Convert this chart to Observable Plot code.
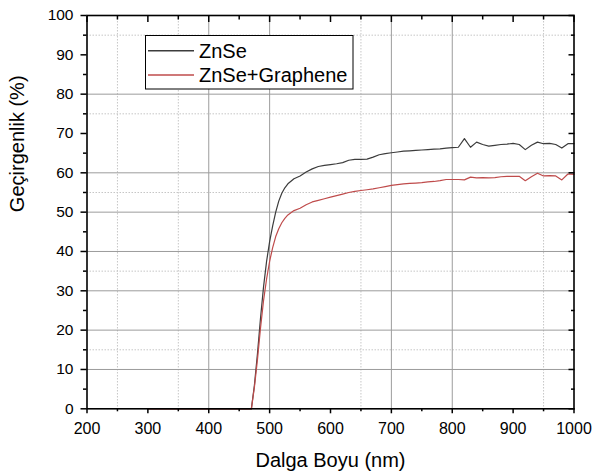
<!DOCTYPE html>
<html>
<head>
<meta charset="utf-8">
<script src="https://cdn.jsdelivr.net/npm/d3@7"></script>
<script src="https://cdn.jsdelivr.net/npm/@observablehq/plot@0.6"></script>
<style>
  html, body { margin: 0; padding: 0; background: white; }
  #chart svg { display: block; }
</style>
</head>
<body>
<div id="chart"></div>
<script>
// ---- data ----
const wavelengths = [300, 350, 400, 450, 470, 475, 480, 485, 490, 495, 500, 505, 510, 515, 520, 525, 530, 540, 550, 560, 570, 580, 590, 600, 610, 620, 630, 640, 650, 660, 670, 680, 690, 700, 710, 720, 730, 740, 750, 760, 770, 780, 790, 800, 810, 820, 830, 840, 850, 860, 870, 880, 890, 900, 910, 920, 930, 940, 950, 960, 970, 980, 990, 1000];
const znse = [0, 0, 0, 0, 0, 6, 14, 23, 31, 37.5, 42.5, 46.5, 50, 52.8, 54.8, 56.2, 57.2, 58.5, 59.2, 60.2, 61, 61.6, 61.9, 62.1, 62.3, 62.6, 63.2, 63.4, 63.4, 63.5, 64, 64.6, 64.9, 65.1, 65.3, 65.5, 65.6, 65.7, 65.8, 65.9, 66, 66.1, 66.3, 66.4, 66.5, 68.7, 66.5, 67.8, 67.2, 66.8, 67, 67.2, 67.3, 67.5, 67.2, 65.9, 67, 67.8, 67.4, 67.5, 67.2, 66.3, 67.4, 67.4];
const znseGraphene = [0, 0, 0, 0, 0, 5.5, 12.5, 20.5, 27.5, 33, 37.5, 41, 43.8, 45.8, 47.3, 48.4, 49.3, 50.4, 51, 51.9, 52.6, 53, 53.4, 53.8, 54.2, 54.6, 55, 55.3, 55.5, 55.7, 55.9, 56.2, 56.5, 56.8, 57, 57.2, 57.3, 57.4, 57.5, 57.7, 57.8, 58, 58.3, 58.3, 58.3, 58.2, 58.9, 58.7, 58.8, 58.7, 58.8, 59, 59.1, 59.1, 59.1, 58, 59, 59.9, 59.2, 59.3, 59.2, 58.2, 59.7, 59.6];
const seriesNames = ["ZnSe", "ZnSe+Graphene"];
const seriesColors = ["#3c3c3c", "#bf4b4b"];
const xTicks = [200, 300, 400, 500, 600, 700, 800, 900, 1000];
const xMinorTicks = [250, 350, 450, 550, 650, 750, 850, 950];
const yTicks = [0, 10, 20, 30, 40, 50, 60, 70, 80, 90, 100];
const yMinorTicks = [5, 15, 25, 35, 45, 55, 65, 75, 85, 95];
// gridlines visible in the reference
const gridX = [400, 500, 700, 800];
const gridXMinor = [250, 350, 650, 950];
const gridY = [10, 20, 30, 40, 50, 60, 80];
const gridYMinor = [15, 35, 55, 75, 95];
const xLabel = "Dalga Boyu (nm)";
const yLabel = "Geçirgenlik (%)";

const rows = [];
wavelengths.forEach((w, i) => {
  rows.push({w, v: znse[i], s: seriesNames[0]});
});
wavelengths.forEach((w, i) => {
  rows.push({w, v: znseGraphene[i], s: seriesNames[1]});
});

const W = 593, H = 471;
const mL = 86.5, mR = 19.5, mT = 15, mB = 62.7;
const font = "'Liberation Sans', Arial, Helvetica, sans-serif";

const chart = Plot.plot({
  width: W, height: H,
  marginLeft: mL, marginRight: mR, marginTop: mT, marginBottom: mB,
  x: {domain: [200, 1000]},
  y: {domain: [0, 100]},
  color: {domain: seriesNames, range: seriesColors},
  style: {fontFamily: font, background: "white", color: "black", overflow: "visible"},
  marks: [
    Plot.ruleX(gridXMinor, {stroke: "#c6c6c6", strokeDasharray: "1.5,1.5", strokeWidth: 1}),
    Plot.ruleY(gridYMinor, {stroke: "#c6c6c6", strokeDasharray: "1.5,1.5", strokeWidth: 1}),
    Plot.ruleX(gridX, {stroke: "#9c9c9c", strokeWidth: 1}),
    Plot.ruleY(gridY, {stroke: "#9c9c9c", strokeWidth: 1}),
    Plot.line(rows, {x: "w", y: "v", z: "s", stroke: "s", strokeWidth: 1.2}),
    Plot.frame({stroke: "black", strokeWidth: 1.6}),
    // bottom axis (outward)
    Plot.axisX({ticks: xTicks, tickSize: 5, tickPadding: 9, fontSize: 16, label: null, tickFormat: d => String(d), strokeWidth: 1.5}),
    Plot.axisX({ticks: xMinorTicks, tickSize: 3, fill: "none", label: null, tickFormat: () => "", strokeWidth: 1.5}),
    // top axis (inward)
    Plot.axisX({anchor: "top", ticks: xTicks, tickSize: 6, dy: 6, fill: "none", label: null, tickFormat: () => "", strokeWidth: 1.5}),
    Plot.axisX({anchor: "top", ticks: xMinorTicks, tickSize: 3.5, dy: 3.5, fill: "none", label: null, tickFormat: () => "", strokeWidth: 1.5}),
    // left axis (outward)
    Plot.axisY({ticks: yTicks, tickSize: 6, tickPadding: 7.5, fontSize: 15.5, label: null, tickFormat: d => String(d), strokeWidth: 1.5}),
    Plot.axisY({ticks: yMinorTicks, tickSize: 3.5, fill: "none", label: null, tickFormat: () => "", strokeWidth: 1.5}),
    // right axis (inward)
    Plot.axisY({anchor: "right", ticks: yTicks, tickSize: 6, dx: -6, fill: "none", label: null, tickFormat: () => "", strokeWidth: 1.5}),
    Plot.axisY({anchor: "right", ticks: yMinorTicks, tickSize: 3.5, dx: -3.5, fill: "none", label: null, tickFormat: () => "", strokeWidth: 1.5}),
    // axis titles
    Plot.text([xLabel], {text: d => d, frameAnchor: "bottom", dy: 52, lineAnchor: "middle", fontSize: 20, fill: "black"}),
    Plot.text([yLabel], {text: d => d, frameAnchor: "left", dx: -69, rotate: -90, lineAnchor: "middle", fontSize: 20, fill: "black"})
  ]
});

document.getElementById("chart").appendChild(chart);

// legend box inside the plot area
const svg = d3.select(chart);
const lg = svg.append("g").attr("font-family", font).attr("text-anchor", "start");
lg.append("rect")
  .attr("x", 145.5).attr("y", 35.5).attr("width", 207.5).attr("height", 53.5)
  .attr("fill", "white").attr("stroke", "black").attr("stroke-width", 1);
seriesNames.forEach((name, i) => {
  const cy = 50.7 + i * 24.3;
  lg.append("line")
    .attr("x1", 148).attr("x2", 194).attr("y1", cy).attr("y2", cy)
    .attr("stroke", seriesColors[i]).attr("stroke-width", 1.4);
  lg.append("text")
    .attr("x", 199).attr("y", cy + 7.3)
    .attr("text-anchor", "start")
    .attr("font-size", 20).attr("fill", "black")
    .text(name);
});
</script>
</body>
</html>
